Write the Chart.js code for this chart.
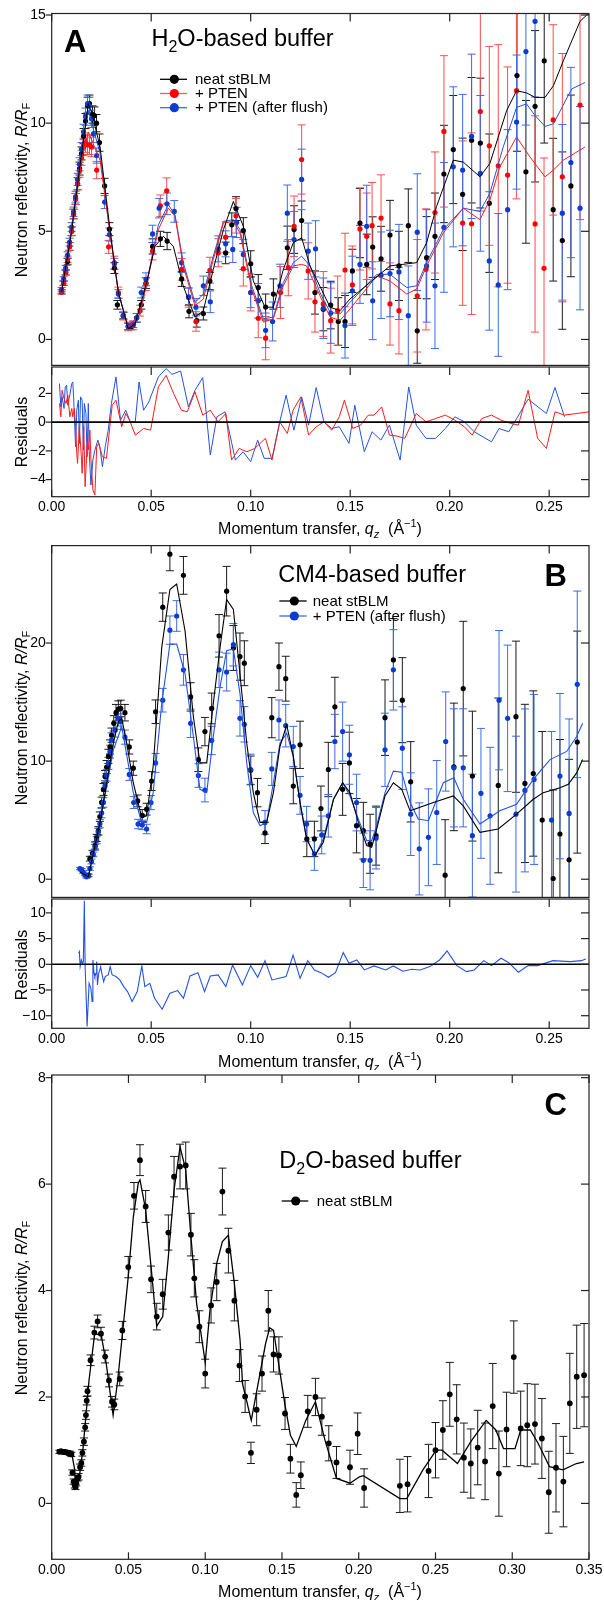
<!DOCTYPE html>
<html><head><meta charset="utf-8">
<script src="https://cdn.jsdelivr.net/npm/chart.js@4.4.1/dist/chart.umd.min.js"></script>
<style>html,body{margin:0;padding:0;background:#fff}#wrap{position:relative;width:604px;height:1600px;overflow:hidden;background:#fff}canvas{position:absolute;left:0}</style>
</head><body><div id="wrap"></div>
<script>
// ---------------- DATA ----------------
const xTicksAB = [0, 0.05, 0.10, 0.15, 0.20, 0.25];
const xTicksC = [0, 0.05, 0.10, 0.15, 0.20, 0.25, 0.30, 0.35];
const yTicksA = [0, 5, 10, 15];
const yTicksResA = [-4, -2, 0, 2];
const yTicksB = [0, 10, 20];
const yTicksResB = [-10, -5, 0, 5, 10];
const yTicksC = [0, 2, 4, 6, 8];
const legendA = ['neat stBLM', '+ PTEN', '+ PTEN (after flush)'];
const legendB = ['neat stBLM', '+ PTEN (after flush)'];
const legendC = ['neat stBLM'];

// Panel A (H2O) : [q, R/RF, error]
const neatA = [[0.005,2.2,0.1],[0.006,2.6,0.1],[0.007,3.1,0.12],[0.008,3.6,0.15],[0.009,4.3,0.18],[0.010,5.0,0.2],[0.011,5.8,0.22],[0.012,6.5,0.25],[0.013,7.2,0.28],[0.014,7.9,0.3],[0.015,8.6,0.3],[0.016,9.4,0.35],[0.017,10.1,0.35],[0.018,10.8,0.4],[0.019,10.9,0.4],[0.0205,10.4,0.4],[0.0215,10.35,0.4],[0.0225,10.0,0.4],[0.024,9.1,0.4],[0.0266,7.1,0.35],[0.029,5.1,0.3],[0.0315,3.3,0.25],[0.033,1.6,0.2],[0.036,1.1,0.15],[0.0385,0.6,0.15],[0.040,0.6,0.15],[0.0427,1.0,0.2],[0.045,1.6,0.2],[0.0474,2.6,0.25],[0.0507,4.3,0.35],[0.0546,4.65,0.35],[0.058,4.55,0.4],[0.0653,2.8,0.35],[0.069,1.3,0.3],[0.0729,0.87,0.3],[0.0762,1.2,0.3],[0.0795,2.7,0.4],[0.0874,4.0,0.5],[0.0905,5.3,0.55],[0.0926,6.05,0.55],[0.0963,5.03,0.6],[0.100,3.5,0.6],[0.1038,2.4,0.6],[0.1075,1.5,0.6],[0.1114,2.1,0.7],[0.1184,4.24,1.0],[0.1218,5.08,1.1],[0.1256,5.5,0.9],[0.1323,2.17,1.0],[0.1365,1.4,1.0],[0.1402,1.59,1.1],[0.144,0.83,1.1],[0.1474,0.83,1.2],[0.1511,3.17,1.0],[0.1549,5.38,1.6],[0.1583,3.47,1.4],[0.1613,4.27,1.4],[0.1655,3.73,1.5],[0.170,4.83,1.6],[0.1745,3.40,1.6],[0.1792,5.26,1.7],[0.1837,0.40,1.5],[0.1884,3.78,1.9],[0.1926,4.77,2.0],[0.1971,7.65,2.25],[0.2018,8.78,2.5],[0.2065,6.71,2.6],[0.211,9.21,2.9],[0.2154,9.08,3.0],[0.2199,6.30,3.2],[0.2338,12.2,3.5],[0.2383,7.75,3.3],[0.2429,10.78,3.5],[0.2475,12.88,3.8],[0.252,6.0,3.3],[0.2566,4.57,4.1],[0.2609,7.10,4.2]];
const ptenA = [[0.005,2.2,0.1],[0.006,2.6,0.1],[0.007,3.1,0.12],[0.008,3.7,0.15],[0.009,4.3,0.18],[0.010,5.0,0.2],[0.011,5.8,0.22],[0.012,6.5,0.25],[0.013,7.2,0.28],[0.014,7.8,0.3],[0.015,8.4,0.35],[0.016,8.9,0.4],[0.017,9.1,0.45],[0.018,9.0,0.45],[0.019,9.0,0.45],[0.020,8.9,0.45],[0.0226,7.83,0.4],[0.0286,4.28,0.3],[0.0315,3.55,0.3],[0.0335,2.17,0.25],[0.036,1.1,0.2],[0.0385,0.6,0.2],[0.041,0.65,0.2],[0.0444,1.33,0.25],[0.0472,2.56,0.3],[0.0507,4.08,0.4],[0.0546,6.18,0.5],[0.0578,6.87,0.6],[0.0653,3.24,0.5],[0.0688,1.94,0.45],[0.0725,0.83,0.45],[0.0795,3.2,0.6],[0.0837,4.01,0.65],[0.0874,4.73,0.7],[0.0926,5.72,0.8],[0.0963,3.27,0.8],[0.100,2.17,0.85],[0.1038,0.98,0.9],[0.1075,0.06,1.0],[0.115,2.17,1.2],[0.1189,3.32,1.3],[0.1218,5.23,1.4],[0.1256,8.32,1.6],[0.1289,3.17,1.3],[0.1323,1.74,1.4],[0.1365,1.64,1.5],[0.1402,0.87,1.5],[0.1437,1.33,1.6],[0.1474,3.21,1.7],[0.1511,2.52,1.8],[0.1549,5.11,1.9],[0.1583,4.77,2.0],[0.161,5.26,2.0],[0.1655,5.61,2.0],[0.170,1.64,1.9],[0.1745,1.33,2.0],[0.1837,2.02,2.6],[0.1881,3.24,2.8],[0.1926,5.87,2.8],[0.1971,9.62,3.5],[0.2065,5.38,3.8],[0.211,5.35,4.2],[0.2154,10.54,4.6],[0.2199,8.95,4.6],[0.2244,8.03,5.6],[0.2291,7.60,5.0],[0.2336,11.50,5.0],[0.2429,5.34,5.0],[0.2474,3.29,5.1],[0.252,10.15,4.4],[0.2566,7.52,5.7],[0.2655,10.84,5.3]];
const flushA = [[0.005,2.3,0.1],[0.006,2.8,0.1],[0.007,3.3,0.12],[0.008,3.9,0.15],[0.009,4.5,0.18],[0.010,5.2,0.2],[0.011,5.9,0.22],[0.012,6.6,0.25],[0.013,7.4,0.28],[0.014,8.1,0.3],[0.015,8.8,0.3],[0.016,9.6,0.35],[0.017,10.3,0.4],[0.018,10.9,0.4],[0.019,10.8,0.4],[0.020,10.2,0.4],[0.021,9.5,0.4],[0.0226,8.5,0.35],[0.0266,6.35,0.3],[0.029,4.85,0.3],[0.0315,3.5,0.25],[0.0335,2.1,0.2],[0.036,1.1,0.15],[0.0385,0.6,0.15],[0.041,0.7,0.15],[0.0427,1.0,0.2],[0.045,2.17,0.25],[0.0474,2.78,0.3],[0.0507,4.88,0.4],[0.054,6.07,0.45],[0.0579,6.27,0.5],[0.0616,5.92,0.5],[0.0653,3.55,0.45],[0.0688,1.97,0.4],[0.0725,1.49,0.4],[0.0762,2.48,0.45],[0.0797,1.74,0.5],[0.0837,4.19,0.6],[0.0874,4.42,0.6],[0.091,4.16,0.6],[0.0929,5.41,0.7],[0.0963,3.93,0.7],[0.100,2.17,0.7],[0.1038,1.79,0.8],[0.1075,0.42,0.8],[0.111,0.83,0.9],[0.1147,2.48,1.0],[0.1184,5.84,1.3],[0.1218,4.62,1.3],[0.1256,7.40,1.4],[0.1289,4.08,1.3],[0.1326,4.19,1.3],[0.1365,1.44,1.4],[0.1402,1.22,1.4],[0.1474,0.64,1.5],[0.1511,2.25,1.6],[0.1549,3.47,1.8],[0.1583,5.23,1.9],[0.1613,1.79,1.8],[0.1655,2.97,2.0],[0.170,3.05,2.0],[0.1745,3.12,2.2],[0.1792,1.10,2.3],[0.1837,4.96,2.7],[0.1884,3.40,2.6],[0.1926,2.48,2.9],[0.1971,5.18,3.0],[0.2018,7.98,3.7],[0.2065,7.83,3.5],[0.211,9.39,3.8],[0.2154,7.68,3.6],[0.2199,3.63,3.2],[0.2244,2.52,3.3],[0.2291,6.00,3.7],[0.2336,10.05,3.1],[0.2383,13.31,3.4],[0.2429,14.71,3.5],[0.2566,5.84,4.1],[0.2609,8.18,4.4],[0.2655,6.07,4.7]];
const neatFitA = [[0.005,2.2],[0.010,5.0],[0.015,8.6],[0.0184,10.9],[0.0201,10.5],[0.0243,8.9],[0.0293,5.08],[0.0335,2.17],[0.0385,0.49],[0.0419,0.72],[0.0477,2.63],[0.0519,4.31],[0.0561,4.77],[0.0611,4.31],[0.0661,2.48],[0.072,1.03],[0.0762,1.33],[0.0812,3.24],[0.0863,5.08],[0.0913,6.38],[0.0963,5.23],[0.1013,2.71],[0.1072,1.49],[0.1114,1.49],[0.1164,3.24],[0.1214,4.47],[0.1256,4.7],[0.1298,3.4],[0.1399,1.49],[0.1449,1.33],[0.1499,1.87],[0.170,3.4],[0.1834,3.55],[0.1884,4.47],[0.1934,6.15],[0.2018,8.29],[0.2068,8.2],[0.2152,7.52],[0.2202,8.14],[0.2286,10.58],[0.2336,11.5],[0.2386,11.4],[0.2429,11.19],[0.2479,11.19],[0.2521,11.73],[0.2571,12.88],[0.2655,14.71],[0.27,15.1]];
const ptenFitA = [[0.005,2.17],[0.010,5.0],[0.015,8.3],[0.0184,9.59],[0.0243,8.29],[0.0293,4.93],[0.0335,2.17],[0.0385,0.57],[0.0444,1.18],[0.0486,2.94],[0.0536,5.08],[0.0586,6.07],[0.062,5.69],[0.0661,3.4],[0.072,1.56],[0.0762,1.87],[0.0812,3.7],[0.0863,5.38],[0.0913,5.46],[0.0946,4.93],[0.1005,2.33],[0.1064,0.8],[0.1114,0.96],[0.1164,2.48],[0.1214,3.4],[0.1256,3.47],[0.1281,3.4],[0.1348,2.02],[0.1399,1.03],[0.1449,0.88],[0.1499,1.41],[0.1634,2.94],[0.17,2.7],[0.1784,2.1],[0.1834,2.33],[0.1884,3.4],[0.1968,4.93],[0.2068,6.07],[0.2152,5.54],[0.2202,6.45],[0.2252,7.98],[0.2336,9.36],[0.2403,8.44],[0.2479,7.52],[0.2521,7.83],[0.2571,8.29],[0.268,8.9]];
const flushFitA = [[0.005,2.3],[0.010,5.2],[0.015,8.8],[0.0184,10.58],[0.0243,8.6],[0.0293,4.9],[0.0335,2.17],[0.0385,0.57],[0.0444,1.2],[0.0486,3.0],[0.0536,5.3],[0.0586,6.23],[0.062,5.75],[0.0661,3.55],[0.072,1.71],[0.0762,2.1],[0.0812,3.85],[0.0863,5.46],[0.0913,5.54],[0.0946,5.08],[0.1005,2.48],[0.1064,0.96],[0.1114,1.03],[0.1164,2.63],[0.1214,3.55],[0.1256,3.85],[0.1298,3.4],[0.1348,2.17],[0.1399,1.26],[0.1449,1.18],[0.1499,1.72],[0.1634,3.01],[0.17,3.01],[0.1784,2.4],[0.1834,2.48],[0.1884,3.55],[0.1968,5.08],[0.2068,6.07],[0.2152,5.92],[0.2202,6.76],[0.2269,8.9],[0.2336,10.73],[0.2386,10.89],[0.2429,10.35],[0.2479,9.85],[0.2521,9.97],[0.2613,11.58],[0.268,11.88]];
const ptenResA = [[0.0039,1.3],[0.0046,0.37],[0.0052,2.22],[0.0062,1.64],[0.0072,1.3],[0.0081,1.88],[0.0091,0.37],[0.0101,0.95],[0.0106,0.37],[0.0114,0.95],[0.012,-0.32],[0.0126,-2.18],[0.013,-2.87],[0.0139,-0.32],[0.0149,-2.41],[0.0153,-3.56],[0.0161,-0.32],[0.0168,-4.49],[0.0178,-1.6],[0.0184,-1.94],[0.0192,-0.56],[0.0197,-2.52],[0.0207,-4.72],[0.0217,-5.07],[0.0226,-1.71],[0.0236,-1.48],[0.0255,-2.41],[0.0275,-2.52],[0.0304,1.18],[0.0323,1.53],[0.0352,-0.32],[0.0372,0.6],[0.0391,0.14],[0.042,-0.9],[0.0462,-0.44],[0.0497,-0.56],[0.0536,2.45],[0.0575,3.26],[0.0613,1.99],[0.0652,0.83],[0.0681,0.72],[0.072,2.11],[0.0759,0.49],[0.0797,0.83],[0.0836,0.02],[0.0875,0.6],[0.0904,-2.64],[0.0942,-1.83],[0.0981,-2.06],[0.102,-1.83],[0.1074,-1.13],[0.1107,-2.64],[0.1146,0.02],[0.1184,-0.79],[0.1213,0.83],[0.1252,1.76],[0.1291,-0.9],[0.1329,-0.32],[0.1368,0.02],[0.1407,-0.56],[0.1445,0.37],[0.1471,1.53],[0.1513,-0.44],[0.1552,-0.21],[0.1591,0.49],[0.162,0.49],[0.1658,1.06],[0.1697,-0.9],[0.1736,-0.97],[0.1774,-1.13],[0.1832,0.6],[0.1881,0.02],[0.1929,0.25],[0.1978,0.49],[0.2026,0.14],[0.2074,-0.32],[0.2113,-0.9],[0.2161,0.25],[0.221,0.49],[0.2258,0.14],[0.2307,-0.09],[0.2345,-0.21],[0.2394,2.22],[0.2442,-1.13],[0.2486,-1.83],[0.2529,0.72],[0.2577,0.49],[0.27,0.72]];
const flushResA = [[0.0039,2.69],[0.0046,1.06],[0.0052,1.76],[0.0062,0.95],[0.0068,2.45],[0.0075,2.57],[0.0081,1.18],[0.0091,1.88],[0.0101,2.69],[0.0106,2.8],[0.011,1.76],[0.012,-1.71],[0.0126,0.83],[0.0134,1.53],[0.0139,-1.48],[0.0145,1.76],[0.0153,1.53],[0.0159,-1.94],[0.0164,1.3],[0.0172,0.6],[0.0178,-2.41],[0.0184,1.3],[0.0188,-1.94],[0.0197,-4.38],[0.0207,-2.64],[0.0217,-1.94],[0.0232,-1.25],[0.0242,-1.71],[0.0255,-3.1],[0.0269,-1.71],[0.0284,-0.56],[0.030,1.3],[0.0323,3.15],[0.0346,0.14],[0.0372,0.83],[0.0395,0.02],[0.042,0.02],[0.0439,2.8],[0.0462,0.83],[0.0488,1.41],[0.0536,3.15],[0.0575,3.73],[0.0604,3.33],[0.0648,3.56],[0.0687,1.06],[0.072,2.22],[0.0759,3.1],[0.0797,-2.29],[0.083,0.37],[0.0871,0.72],[0.0923,-2.64],[0.0962,-2.06],[0.1,-2.75],[0.1035,-1.25],[0.1068,-2.52],[0.1107,-2.52],[0.1146,0.02],[0.1178,1.88],[0.1217,-0.56],[0.1256,1.76],[0.1291,-0.21],[0.1329,2.41],[0.1368,0.02],[0.1407,-0.44],[0.1445,-0.32],[0.1494,-1.48],[0.1523,1.18],[0.1571,-2.06],[0.161,-0.67],[0.1654,-1.25],[0.1697,-0.21],[0.1751,-2.64],[0.1794,2.45],[0.1832,-0.21],[0.1881,-1.13],[0.1929,-1.13],[0.1978,-0.44],[0.2026,0.37],[0.2074,0.02],[0.2123,-0.67],[0.221,-1.37],[0.2248,-0.44],[0.2297,-0.67],[0.2394,1.6],[0.2486,0.6],[0.2529,2.41],[0.2577,0.37]];

// Panel B (CM4)
const neatB = [[0.0175,0.3,0.1],[0.0184,0.34,0.1],[0.0192,1.74,0.2],[0.0205,2.2,0.25],[0.0218,2.85,0.3],[0.0226,3.5,0.3],[0.0234,4.1,0.35],[0.0242,5.3,0.4],[0.0251,6.5,0.45],[0.026,7.6,0.5],[0.0268,8.7,0.5],[0.0276,9.5,0.55],[0.0285,10.4,0.6],[0.0293,11.2,0.6],[0.0301,12.2,0.6],[0.0312,13.2,0.65],[0.0323,14.1,0.7],[0.0335,14.4,0.7],[0.0347,14.46,0.7],[0.0368,14.1,0.7],[0.039,11.2,0.6],[0.041,9.4,0.6],[0.0432,6.63,0.5],[0.0455,5.4,0.5],[0.0477,5.93,0.5],[0.0502,8.31,0.8],[0.0522,14.18,1.0],[0.0558,23.04,1.2],[0.0594,27.52,1.4],[0.0662,25.73,1.6],[0.0698,15.44,1.2],[0.0737,10.12,1.0],[0.077,12.5,1.2],[0.0804,14.46,1.3],[0.0841,20.61,1.8],[0.0879,24.39,2.1],[0.0913,19.58,1.9],[0.0946,18.85,2.0],[0.0968,18.29,1.9],[0.1,9.23,1.2],[0.1034,7.33,1.2],[0.1072,3.92,0.9],[0.1106,13.68,1.7],[0.1142,18.0,2.0],[0.1176,16.98,1.9],[0.1214,7.89,1.5],[0.1248,11.38,2.0],[0.1282,3.41,1.5],[0.132,3.41,1.5],[0.1353,5.99,1.9],[0.139,9.29,2.3],[0.1423,14.6,2.5],[0.1462,7.61,2.2],[0.1496,9.85,2.6],[0.1532,4.53,2.3],[0.1566,4.11,2.4],[0.16,3.0,2.5],[0.163,3.69,2.5],[0.1675,13.68,3.2],[0.1717,18.57,3.5],[0.1762,15.16,3.6],[0.1804,8.25,3.4],[0.1977,0.34,4.7],[0.2021,9.51,5.4],[0.2068,16.14,5.7],[0.2114,8.73,5.5],[0.2244,7.94,7.4],[0.2333,13.76,6.4],[0.2378,8.11,6.7],[0.242,8.95,7.0],[0.2465,5.01,7.5],[0.252,0.06,7.5],[0.2554,3.83,8.0],[0.26,1.65,8.5],[0.2641,11.61,9.4]];
const flushB = [[0.0142,0.9,0.1],[0.015,0.8,0.1],[0.0158,0.6,0.1],[0.0167,0.4,0.1],[0.0175,0.2,0.1],[0.0184,0.3,0.1],[0.0192,0.9,0.15],[0.02,1.5,0.2],[0.0209,2.1,0.2],[0.0218,2.7,0.25],[0.0226,3.3,0.3],[0.0234,4.0,0.3],[0.0242,4.7,0.35],[0.0251,5.6,0.4],[0.026,6.5,0.4],[0.0268,7.9,0.45],[0.0276,8.8,0.5],[0.0285,9.8,0.5],[0.0293,10.8,0.55],[0.0301,11.8,0.6],[0.0318,12.64,0.6],[0.0335,13.62,0.65],[0.0347,13.34,0.65],[0.0368,12.03,0.6],[0.039,8.87,0.5],[0.0412,6.49,0.5],[0.0434,4.67,0.4],[0.0455,4.6,0.4],[0.0477,4.25,0.4],[0.0499,6.49,0.6],[0.0522,9.85,0.8],[0.0558,15.16,1.0],[0.0594,21.09,1.2],[0.0628,22.29,1.3],[0.0662,17.73,1.3],[0.0698,13.2,1.2],[0.0737,8.78,1.0],[0.077,7.55,1.0],[0.0804,11.75,1.2],[0.0841,17.73,1.5],[0.0879,17.54,1.6],[0.0913,19.86,1.8],[0.0946,13.62,1.5],[0.0968,13.12,1.5],[0.1,9.29,1.3],[0.1072,4.81,1.0],[0.1106,9.34,1.4],[0.1142,13.48,1.7],[0.1176,13.0,1.8],[0.1214,11.24,1.7],[0.1248,7.1,1.6],[0.1281,4.67,1.5],[0.132,2.15,1.4],[0.1357,3.75,1.6],[0.139,5.37,1.8],[0.1423,11.66,2.3],[0.1462,12.5,2.5],[0.1496,10.54,2.5],[0.1532,6.49,2.4],[0.1566,1.6,2.3],[0.16,1.6,2.5],[0.163,3.47,2.6],[0.1675,10.96,3.1],[0.1717,17.73,3.4],[0.1762,11.1,3.5],[0.1804,5.51,3.5],[0.1847,2.57,3.9],[0.1893,3.55,4.1],[0.1935,5.65,4.4],[0.198,11.66,4.2],[0.2021,9.43,5.0],[0.2068,9.43,5.0],[0.2114,3.69,5.2],[0.2157,7.27,5.5],[0.2203,5.37,5.8],[0.2248,15.16,5.9],[0.2291,13.62,6.2],[0.2333,5.51,6.6],[0.2378,7.52,6.9],[0.2424,8.45,7.2],[0.2512,5.01,7.5],[0.2554,8.73,7.0],[0.26,5.57,8.0],[0.2641,16.5,7.9]];
const neatFitB = [[0.0142,0.62],[0.0184,0.2],[0.0243,4.81],[0.031,11.52],[0.0335,13.34],[0.0352,13.62],[0.0377,11.52],[0.041,8.17],[0.0452,5.23],[0.0477,5.37],[0.051,9.57],[0.0553,19.63],[0.0594,24.53],[0.0628,25.0],[0.067,21.03],[0.0712,13.76],[0.0745,9.85],[0.0779,9.85],[0.0812,14.88],[0.0846,19.63],[0.0879,23.69],[0.0913,22.85],[0.0946,17.4],[0.098,11.52],[0.1013,7.33],[0.1047,4.81],[0.108,4.81],[0.1114,7.33],[0.1147,11.24],[0.1181,13.06],[0.1214,10.4],[0.1248,6.49],[0.1281,3.41],[0.1323,2.01],[0.1365,3.13],[0.1416,6.77],[0.1462,8.17],[0.1499,7.33],[0.1541,4.81],[0.1583,2.85],[0.1608,2.71],[0.1633,4.25],[0.1675,7.05],[0.1717,8.17],[0.1759,7.61],[0.1801,5.79],[0.1918,6.49],[0.2018,7.05],[0.2068,6.21],[0.2152,3.97],[0.2244,4.25],[0.2336,5.51],[0.242,6.77],[0.247,7.33],[0.2554,7.75],[0.2596,8.03],[0.2638,9.0],[0.2668,10.13]];
const flushFitB = [[0.0142,0.62],[0.0184,0.2],[0.0243,4.81],[0.031,10.96],[0.0352,12.92],[0.041,7.33],[0.0452,4.81],[0.0477,4.81],[0.051,7.33],[0.0553,14.88],[0.0594,19.91],[0.0628,19.91],[0.067,17.4],[0.0712,12.08],[0.0745,7.61],[0.0779,7.33],[0.0812,12.08],[0.0846,16.28],[0.0879,19.35],[0.0913,19.49],[0.0946,15.72],[0.098,9.85],[0.1013,5.65],[0.1047,4.53],[0.108,4.81],[0.1114,8.17],[0.1147,11.52],[0.1181,12.36],[0.1214,10.4],[0.1248,6.49],[0.1281,3.41],[0.1323,2.01],[0.1365,3.41],[0.1416,6.77],[0.1462,8.17],[0.1499,7.05],[0.1541,5.09],[0.1583,3.27],[0.1608,3.27],[0.1633,4.53],[0.1675,7.33],[0.1717,9.15],[0.1759,9.06],[0.1801,6.49],[0.1842,5.09],[0.1893,4.95],[0.1968,8.17],[0.2021,8.59],[0.2068,6.77],[0.2152,4.67],[0.2252,5.79],[0.2336,6.35],[0.242,8.45],[0.2504,10.13],[0.2588,10.82],[0.2638,12.08],[0.2668,13.2]];
const flushResB = [[0.0135,2.14],[0.0139,2.46],[0.0143,-0.45],[0.0149,0.84],[0.0155,0.19],[0.0159,0.52],[0.0164,12.36],[0.0168,-0.45],[0.0178,-12.1],[0.0188,-3.69],[0.0197,-4.66],[0.0203,-7.25],[0.0207,0.84],[0.0213,-1.75],[0.0217,-2.39],[0.0223,-1.75],[0.0226,0.52],[0.023,-4.01],[0.0236,-1.75],[0.0242,-1.1],[0.0246,-0.45],[0.0252,-1.75],[0.0261,-3.37],[0.0269,-2.39],[0.0284,-2.07],[0.0294,-0.45],[0.0304,-2.07],[0.0323,-2.39],[0.0342,-3.04],[0.0362,-4.34],[0.0381,-5.31],[0.0404,-7.25],[0.043,-5.31],[0.0453,-0.32],[0.0468,-4.34],[0.0493,-3.69],[0.0517,-6.6],[0.0555,-8.74],[0.0594,-5.63],[0.0633,-5.11],[0.0662,-6.6],[0.0695,-2.27],[0.0735,-1.62],[0.0768,-5.31],[0.0797,-2.27],[0.0836,-2.07],[0.0875,-4.34],[0.0909,-0.13],[0.0958,-4.01],[0.1,-0.26],[0.1035,-2.52],[0.1072,0.71],[0.1107,-3.04],[0.1178,-2.39],[0.1213,1.81],[0.1248,-2.72],[0.1287,0.71],[0.132,-1.1],[0.1353,-1.62],[0.1391,-2.52],[0.1426,-1.62],[0.1465,2.27],[0.1494,0.19],[0.1533,0.84],[0.1571,-1.1],[0.162,-0.32],[0.1678,-1.1],[0.1716,-0.32],[0.1765,-1.36],[0.1809,-0.97],[0.1852,-1.1],[0.19,-0.45],[0.1949,0.84],[0.1987,2.59],[0.2036,-0.26],[0.2084,-1.42],[0.2123,-1.1],[0.2171,0.71],[0.221,-0.26],[0.2258,1.17],[0.2297,0.32],[0.2345,-1.55],[0.2394,-0.26],[0.2442,-0.26],[0.2519,0.71],[0.2606,0.52],[0.2661,0.71],[0.2684,1.04]];

// Panel C (D2O)
const neatC = [[0.005,0.97,0.03],[0.006,0.98,0.03],[0.007,0.97,0.03],[0.008,0.97,0.03],[0.009,0.96,0.03],[0.010,0.96,0.03],[0.011,0.95,0.03],[0.012,0.94,0.04],[0.0128,0.92,0.04],[0.0135,0.58,0.05],[0.0143,0.41,0.05],[0.015,0.34,0.05],[0.0155,0.31,0.05],[0.016,0.38,0.05],[0.0168,0.47,0.05],[0.0175,0.5,0.06],[0.0185,0.68,0.06],[0.0193,0.76,0.06],[0.02,0.95,0.06],[0.021,1.16,0.07],[0.0218,1.43,0.07],[0.0223,1.66,0.08],[0.0228,1.93,0.08],[0.0233,2.11,0.09],[0.0253,2.69,0.1],[0.0278,3.21,0.12],[0.0299,3.42,0.12],[0.0321,3.19,0.12],[0.0348,2.76,0.12],[0.0373,2.31,0.12],[0.0393,1.91,0.1],[0.0408,1.86,0.1],[0.0443,2.34,0.13],[0.046,3.25,0.17],[0.0499,4.44,0.2],[0.0536,5.78,0.25],[0.0575,6.45,0.29],[0.0612,5.58,0.3],[0.0647,4.21,0.25],[0.0684,3.51,0.25],[0.0723,3.93,0.28],[0.076,5.09,0.33],[0.0797,6.14,0.38],[0.0836,6.33,0.42],[0.0873,6.35,0.44],[0.0907,5.05,0.4],[0.0929,4.23,0.35],[0.0962,3.32,0.3],[0.100,2.44,0.27],[0.1038,3.72,0.33],[0.1075,4.16,0.35],[0.1112,5.86,0.44],[0.1151,4.75,0.42],[0.119,3.81,0.38],[0.1223,2.59,0.3],[0.126,2.01,0.3],[0.1298,0.95,0.2],[0.1335,1.76,0.3],[0.137,2.44,0.33],[0.1411,3.62,0.38],[0.1445,2.8,0.33],[0.148,2.78,0.35],[0.152,1.69,0.3],[0.1555,0.84,0.27],[0.1593,0.16,0.23],[0.1623,0.53,0.25],[0.1668,1.73,0.3],[0.1718,2.0,0.35],[0.176,1.63,0.35],[0.1805,1.13,0.33],[0.1855,0.77,0.3],[0.1943,0.68,0.32],[0.1993,1.31,0.39],[0.2035,0.29,0.36],[0.2268,0.33,0.5],[0.2318,0.36,0.52],[0.2455,0.61,0.5],[0.25,1.0,0.52],[0.2548,1.38,0.55],[0.2593,2.05,0.6],[0.2638,1.58,0.65],[0.2685,0.86,0.65],[0.273,0.75,0.65],[0.2775,1.05,0.7],[0.2823,0.79,0.72],[0.2873,1.83,0.8],[0.2913,0.56,0.8],[0.2963,1.39,0.7],[0.301,2.75,0.68],[0.3055,1.41,0.7],[0.3098,1.47,0.78],[0.3148,1.49,0.75],[0.3193,1.22,0.75],[0.3238,0.21,0.77],[0.3285,0.67,0.83],[0.3333,0.41,0.85],[0.3375,1.88,0.94],[0.342,2.38,0.97],[0.3468,2.41,0.97]];
const neatFitC = [[0.004,0.97],[0.013,0.95],[0.015,0.63],[0.0155,0.31],[0.0168,0.41],[0.018,0.5],[0.0205,1.06],[0.0243,2.31],[0.028,3.19],[0.0323,3.16],[0.0355,2.63],[0.04,1.66],[0.043,2.31],[0.0463,3.25],[0.0499,4.27],[0.0532,5.39],[0.0564,6.02],[0.0575,6.08],[0.0612,5.52],[0.0647,4.45],[0.0684,3.33],[0.0723,3.51],[0.076,4.64],[0.0797,5.89],[0.0836,6.7],[0.0873,6.27],[0.0907,5.01],[0.0944,3.76],[0.1,2.65],[0.1031,3.63],[0.1075,4.51],[0.1112,4.92],[0.1151,5.04],[0.119,4.13],[0.1227,3.07],[0.1243,2.25],[0.13,1.56],[0.1393,3.0],[0.142,3.3],[0.1445,3.25],[0.1518,1.88],[0.1555,1.28],[0.1593,1.07],[0.1655,1.56],[0.1718,1.91],[0.178,1.19],[0.1855,0.47],[0.1943,0.38],[0.2005,0.5],[0.203,0.52],[0.2268,0.09],[0.2313,0.09],[0.2418,0.63],[0.2505,1.0],[0.2543,1.0],[0.2643,0.75],[0.273,1.16],[0.283,1.56],[0.2893,1.38],[0.2943,1.03],[0.3018,1.03],[0.3055,1.38],[0.3118,1.38],[0.3168,1.13],[0.3243,0.69],[0.333,0.63],[0.3418,0.75],[0.3468,0.78]];

// ---------------- STYLE ----------------
const FONT = "'Liberation Sans', Arial, Helvetica, sans-serif";
const COL = {
  black: '#000000', blackErr: '#1a1a1a',
  red: '#ff0000', redErr: '#ff4d4d', redFit: '#ff1a1a',
  blue: '#0a3cd2', blueErr: '#3d6be6', blueFit: '#2452e0',
  legRedLine: '#ff5a5a', legBlueLine: '#3f6ae8'
};

function toPts(arr) { return arr.map(r => ({x: r[0], y: r[1]})); }
function pointsDS(arr, color, errColor, order, r) {
  return {data: toPts(arr), errs: arr.map(r => r[2]), errColor, showLine: false,
    pointRadius: r || 2.6, pointHoverRadius: 0, pointBorderWidth: 0,
    pointBackgroundColor: color, backgroundColor: color, borderColor: color, order, clip: 0};
}
function lineDS(arr, color, width, order) {
  return {data: toPts(arr), showLine: true, pointRadius: 0, pointHoverRadius: 0,
    borderColor: color, backgroundColor: color, borderWidth: width, fill: false, tension: 0, order, clip: 0};
}

function rich(ctx, segs, x, y, align) {
  let w = 0;
  segs.forEach(s => { ctx.font = s.f; s.w = ctx.measureText(s.t).width; w += s.w; });
  let cx = align === 'center' ? x - w / 2 : x;
  ctx.textAlign = 'left';
  segs.forEach(s => { ctx.font = s.f; ctx.fillText(s.t, cx, y + (s.dy || 0)); cx += s.w; });
}
function yTitle(ctx, cx, cy, segs) {
  ctx.save(); ctx.translate(cx, cy); ctx.rotate(-Math.PI / 2);
  ctx.fillStyle = '#000'; ctx.textBaseline = 'alphabetic';
  rich(ctx, segs, 0, 0, 'center'); ctx.restore();
}
const reflTitle = () => [
  {t: 'Neutron reflectivity, ', f: '16px ' + FONT},
  {t: 'R/R', f: 'italic 16px ' + FONT},
  {t: 'F', f: '11px ' + FONT, dy: 3}
];
function xTitle(ctx, cy) {
  ctx.fillStyle = '#000'; ctx.textBaseline = 'alphabetic';
  rich(ctx, [
    {t: 'Momentum transfer, ', f: '16px ' + FONT},
    {t: 'q', f: 'italic 16px ' + FONT},
    {t: 'z', f: 'italic 11px ' + FONT, dy: 4},
    {t: '  (Å', f: '16px ' + FONT},
    {t: '\u22121', f: '11px ' + FONT, dy: -7},
    {t: ')', f: '16px ' + FONT}
  ], 320, cy, 'center');
}
function drawLegend(ctx, labels, lines, marks, x0, x1, mx, tx, ys) {
  labels.forEach((lab, i) => {
    const y = ys[i];
    ctx.strokeStyle = lines[i]; ctx.lineWidth = 1.3;
    ctx.beginPath(); ctx.moveTo(x0, y); ctx.lineTo(x1, y); ctx.stroke();
    ctx.fillStyle = marks[i]; ctx.beginPath(); ctx.arc(mx, y, 4.6, 0, 2 * Math.PI); ctx.fill();
    ctx.fillStyle = '#000'; ctx.font = '15px ' + FONT; ctx.textAlign = 'left'; ctx.textBaseline = 'middle';
    ctx.fillText(lab, tx, y + 0.5);
  });
}
function panelTitle(ctx, segs, x, y) {
  ctx.fillStyle = '#000'; ctx.textBaseline = 'alphabetic';
  rich(ctx, segs, x, y, 'left');
}
function letter(ctx, t, x, y, align) {
  ctx.fillStyle = '#000'; ctx.textBaseline = 'alphabetic'; ctx.textAlign = align;
  ctx.font = 'bold 31px ' + FONT; ctx.fillText(t, x, y);
}

function makePlugin(p) {
  return {
    id: 'deco',
    beforeDatasetsDraw(chart) {
      const {ctx, chartArea: a, scales: {x, y}} = chart;
      ctx.save();
      ctx.beginPath(); ctx.rect(a.left, a.top, a.right - a.left, a.bottom - a.top); ctx.clip();
      chart.data.datasets.forEach(ds => {
        if (!ds.errs) return;
        ctx.strokeStyle = ds.errColor; ctx.lineWidth = 1;
        ds.data.forEach((pt, j) => {
          const e = ds.errs[j];
          const px = x.getPixelForValue(pt.x);
          const y1 = y.getPixelForValue(pt.y - e), y2 = y.getPixelForValue(pt.y + e);
          ctx.beginPath();
          ctx.moveTo(px, y1); ctx.lineTo(px, y2);
          ctx.moveTo(px - 4, y1); ctx.lineTo(px + 4, y1);
          ctx.moveTo(px - 4, y2); ctx.lineTo(px + 4, y2);
          ctx.stroke();
        });
      });
      ctx.restore();
    },
    afterDatasetsDraw(chart) {
      const {ctx, chartArea: a, scales: {x, y}} = chart;
      const ln = (x1, y1, x2, y2) => { ctx.beginPath(); ctx.moveTo(x1, y1); ctx.lineTo(x2, y2); ctx.stroke(); };
      ctx.save();
      if (p.zero) {
        const y0 = y.getPixelForValue(0);
        ctx.strokeStyle = '#000'; ctx.lineWidth = 1.6; ln(a.left, y0, a.right, y0);
      }
      ctx.strokeStyle = '#222'; ctx.lineWidth = 1.2;
      ctx.strokeRect(a.left, a.top, a.right - a.left, a.bottom - a.top);
      y.ticks.forEach(t => {
        const py = y.getPixelForValue(t.value);
        ln(a.left - 6, py, a.left, py);
        ln(a.right - 8, py, a.right, py);
      });
      x.ticks.forEach(t => {
        const px = x.getPixelForValue(t.value);
        ln(px, a.top, px, a.top + 8);
        if (p.xLabels) ln(px, a.bottom - 7, px, a.bottom);
      });
      ctx.restore();
    },
    afterDraw(chart) {
      const ctx = chart.ctx;
      ctx.save(); ctx.translate(0, -p.top);
      if (p.deco) p.deco(ctx);
      ctx.restore();
    }
  };
}

function panel(p) {
  const cv = document.createElement('canvas');
  cv.width = 604; cv.height = p.h; cv.style.top = p.top + 'px';
  cv.style.width = '604px'; cv.style.height = p.h + 'px';
  document.getElementById('wrap').appendChild(cv);
  const aTop = p.areaTop - p.top, aBot = p.areaBottom - p.top;
  const xh = p.xLabels ? (p.h - aBot) : 0;
  return new Chart(cv, {
    type: 'scatter',
    data: {datasets: p.datasets},
    options: {
      responsive: false, animation: false, devicePixelRatio: 1, events: [],
      layout: {padding: {left: 0, right: 15, top: aTop, bottom: p.xLabels ? 0 : (p.h - aBot)}},
      plugins: {legend: {display: false}, tooltip: {enabled: false}},
      scales: {
        x: {type: 'linear', min: p.xMin, max: p.xMax,
          afterBuildTicks: s => { s.ticks = p.xTicks.map(v => ({value: v})); },
          afterFit: s => { s.height = xh; s.paddingLeft = 0; s.paddingRight = 0; s.paddingTop = 0; s.paddingBottom = 0; },
          grid: {display: false, drawTicks: false}, border: {display: false},
          ticks: {display: !!p.xLabels, padding: 2, maxRotation: 0, autoSkip: false,
            font: {family: FONT, size: 14}, color: '#000', callback: v => Number(v).toFixed(2)}},
        y: {type: 'linear', min: p.yMin, max: p.yMax,
          afterBuildTicks: s => { s.ticks = p.yTicks.map(v => ({value: v})); },
          afterFit: s => { s.width = 51.7; s.paddingTop = 0; s.paddingBottom = 0; s.paddingLeft = 0; s.paddingRight = 0; },
          grid: {display: false, drawTicks: false}, border: {display: false},
          ticks: {padding: 6, font: {family: FONT, size: 14}, color: '#000',
            callback: v => String(v).replace('-', '\u2212')}}
      }
    },
    plugins: [makePlugin(p)]
  });
}

// ---------------- PANELS ----------------
panel({top: 0, h: 368, areaTop: 13.5, areaBottom: 367, xMin: 0, xMax: 0.27, yMin: -1.2, yMax: 15.07,
  xTicks: xTicksAB, yTicks: yTicksA,
  datasets: [
    lineDS(neatFitA, COL.black, 1, 0), lineDS(ptenFitA, COL.redFit, 1, 1), lineDS(flushFitA, COL.blueFit, 1, 2),
    pointsDS(neatA, COL.black, COL.blackErr, 5), pointsDS(ptenA, COL.red, COL.redErr, 4), pointsDS(flushA, COL.blue, COL.blueErr, 3)
  ],
  deco: ctx => {
    letter(ctx, 'A', 64, 51.5, 'left');
    panelTitle(ctx, [{t: 'H', f: '23.5px ' + FONT}, {t: '2', f: '16px ' + FONT, dy: 6}, {t: 'O-based buffer', f: '23.5px ' + FONT}], 151.5, 45.7);
    drawLegend(ctx, legendA, [COL.black, COL.legRedLine, COL.legBlueLine], [COL.black, COL.red, COL.blue], 160, 187, 174.3, 195, [79.3, 93.5, 107.7]);
    yTitle(ctx, 27, 190, reflTitle());
  }
});
panel({top: 366, h: 178, areaTop: 367, areaBottom: 496.7, xMin: 0, xMax: 0.27, yMin: -5.19, yMax: 3.84,
  xTicks: xTicksAB, yTicks: yTicksResA, xLabels: true, zero: true,
  datasets: [lineDS(flushResA, COL.blueFit, 1, 1), lineDS(ptenResA, COL.redFit, 1, 0)],
  deco: ctx => {
    yTitle(ctx, 27, 432, [{t: 'Residuals', f: '16px ' + FONT}]);
    xTitle(ctx, 534);
  }
});
panel({top: 543, h: 357, areaTop: 544, areaBottom: 899, xMin: 0, xMax: 0.27, yMin: -1.54, yMax: 28.25,
  xTicks: xTicksAB, yTicks: yTicksB,
  datasets: [
    lineDS(neatFitB, COL.black, 1.1, 0), lineDS(flushFitB, COL.blueFit, 1.1, 1),
    pointsDS(neatB, COL.black, COL.blackErr, 3), pointsDS(flushB, COL.blue, COL.blueErr, 2)
  ],
  deco: ctx => {
    letter(ctx, 'B', 567, 585.7, 'right');
    panelTitle(ctx, [{t: 'CM4-based buffer', f: '23.5px ' + FONT}], 278.3, 581.7);
    drawLegend(ctx, legendB, [COL.black, COL.legBlueLine], [COL.black, COL.blue], 279.3, 306.7, 294.3, 312.7, [601, 616]);
    yTitle(ctx, 27, 718, reflTitle());
  }
});
panel({top: 898, h: 172, areaTop: 899, areaBottom: 1028.3, xMin: 0, xMax: 0.27, yMin: -12.45, yMax: 12.7,
  xTicks: xTicksAB, yTicks: yTicksResB, xLabels: true, zero: true,
  datasets: [lineDS(flushResB, COL.blueFit, 1.1, 0)],
  deco: ctx => {
    yTitle(ctx, 27, 965, [{t: 'Residuals', f: '16px ' + FONT}]);
    xTitle(ctx, 1066.5);
  }
});
panel({top: 1070, h: 530, areaTop: 1075, areaBottom: 1559.3, xMin: 0, xMax: 0.35, yMin: -1.05, yMax: 8.05,
  xTicks: xTicksC, yTicks: yTicksC, xLabels: true,
  datasets: [lineDS(neatFitC, COL.black, 1.3, 0), pointsDS(neatC, COL.black, COL.blackErr, 1, 2.9)],
  deco: ctx => {
    letter(ctx, 'C', 567, 1115, 'right');
    panelTitle(ctx, [{t: 'D', f: '23.5px ' + FONT}, {t: '2', f: '16px ' + FONT, dy: 6}, {t: 'O-based buffer', f: '23.5px ' + FONT}], 279.3, 1168.3);
    drawLegend(ctx, legendC, [COL.black], [COL.black], 281.7, 308.3, 295.7, 316.7, [1201]);
    yTitle(ctx, 27, 1308, reflTitle());
    xTitle(ctx, 1597);
  }
});
</script></body></html>
